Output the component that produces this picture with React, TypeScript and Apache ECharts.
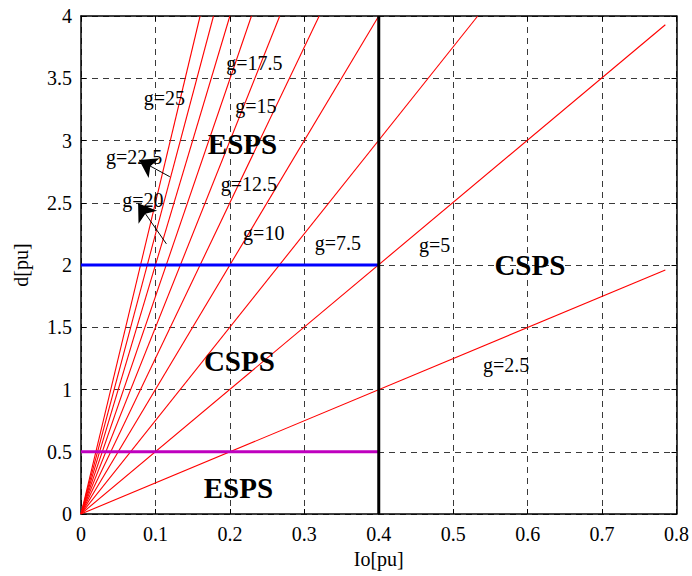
import React, { useEffect, useRef } from "react";
import * as echarts from "echarts";

// gain values of the red lines, d = g * Io
const gValues = [2.5, 5, 7.5, 10, 12.5, 15, 17.5, 20, 22.5, 25];
// end point of each red line (Io, d)
const lineEndIo = [0.785, 0.785, 0.533, 0.4, 0.32, 0.267, 0.229, 0.2, 0.178, 0.16];
const lineEndD = [1.96, 3.93, 4, 4, 4, 4, 4, 4, 4, 4];

const xTicks = [0, 0.1, 0.2, 0.3, 0.4, 0.5, 0.6, 0.7, 0.8];
const yTicks = [0, 0.5, 1, 1.5, 2, 2.5, 3, 3.5, 4];

// boundary lines
const boundaryIo = 0.4;
const blueD = 2;
const magentaD = 0.5;

// annotations
const labelTexts = ["g=17.5", "g=25", "g=15", "ESPS", "g=22.5", "g=12.5", "g=20", "g=10", "g=7.5", "g=5", "CSPS", "CSPS", "g=2.5", "ESPS"];
const labelIo = [0.233, 0.112, 0.235, 0.217, 0.0715, 0.2254, 0.083, 0.2455, 0.345, 0.475, 0.603, 0.2127, 0.571, 0.2114];
const labelD = [3.62, 3.34, 3.28, 2.97, 2.87, 2.65, 2.52, 2.257, 2.177, 2.16, 2.0, 1.229, 1.197, 0.209];
const labelBold = [false, false, false, true, false, false, false, false, false, false, true, true, false, true];

// arrows: tail -> head
const arrowTails = [[0.1193, 2.709], [0.1147, 2.17]];
const arrowHeads = [[0.0781, 2.843], [0.0767, 2.496]];

const FONT = "'Liberation Serif', 'Times New Roman', serif";

export default function App() {
  const ref = useRef<HTMLDivElement>(null);
  useEffect(() => {
    document.body.style.margin = "0";
    document.documentElement.style.overflow = "hidden";
    const chart = echarts.init(ref.current!, null, { renderer: "svg", width: 692, height: 576 });
    const gridLine = { show: true, lineStyle: { color: "#3a3a3a", type: [6, 5] as any, width: 1 } };
    const series: any[] = [];
    gValues.forEach((g, i) => {
      series.push({
        type: "line",
        name: "g=" + g,
        data: [[0, 0], [lineEndIo[i], lineEndD[i]]],
        showSymbol: false,
        lineStyle: { color: "#ff0000", width: 1.1 },
        itemStyle: { color: "#ff0000" },
        z: 3,
      });
    });
    series.push({
      type: "line",
      data: [[0, blueD], [boundaryIo, blueD]],
      showSymbol: false,
      lineStyle: { color: "#0000ff", width: 3 },
      z: 4,
    });
    series.push({
      type: "line",
      data: [[0, magentaD], [boundaryIo, magentaD]],
      showSymbol: false,
      lineStyle: { color: "#bf00bf", width: 3 },
      z: 4,
    });
    series.push({
      type: "line",
      data: [[boundaryIo, 0], [boundaryIo, 4]],
      showSymbol: false,
      lineStyle: { color: "#000000", width: 3 },
      z: 5,
    });
    series.push({
      type: "lines",
      coordinateSystem: "cartesian2d",
      data: arrowTails.map((t, i) => ({ coords: [t, arrowHeads[i]] })),
      symbol: ["none", "arrow"],
      symbolSize: [11, 17],
      lineStyle: { color: "#000", width: 1, opacity: 1 },
      itemStyle: { color: "#000", opacity: 1 },
      z: 6,
    });
    series.push({
      type: "scatter",
      symbolSize: 0,
      z: 7,
      itemStyle: { opacity: 1 },
      data: labelTexts.map((t, i) => ({
        value: [labelIo[i], labelD[i]],
        label: {
          show: true,
          position: "inside",
          formatter: t,
          fontFamily: FONT,
          fontSize: labelBold[i] ? 29 : 20,
          fontWeight: labelBold[i] ? "bold" : "normal",
          color: "#000",
          opacity: 1,
        },
      })),
    });

    const axisLine = { show: true, onZero: false, lineStyle: { color: "#000", width: 1.5 } };
    chart.setOption({
      animation: false,
      backgroundColor: "#fff",
      grid: { left: 81, right: 13, top: 16, bottom: 62, containLabel: false },
      xAxis: [
        {
          type: "value",
          min: 0,
          max: 0.8,
          interval: 0.1,
          position: "bottom",
          axisLine,
          axisTick: { show: true, inside: true, length: 5, lineStyle: { color: "#000" } },
          axisLabel: {
            fontFamily: FONT,
            fontSize: 20,
            color: "#000",
            margin: 10,
            formatter: (v: number) => {
              const t = xTicks.find((x) => Math.abs(x - v) < 1e-6);
              return t === undefined ? "" : String(t);
            },
          },
          splitLine: gridLine,
          name: "Io[pu]",
          nameLocation: "middle",
          nameGap: 35,
          nameTextStyle: { fontFamily: FONT, fontSize: 20, color: "#000" },
        },
        {
          type: "value",
          min: 0,
          max: 0.8,
          interval: 0.1,
          position: "top",
          axisLine,
          axisTick: { show: true, inside: true, length: 5, lineStyle: { color: "#000" } },
          axisLabel: { show: false },
          splitLine: { show: false },
        },
      ],
      yAxis: [
        {
          type: "value",
          min: 0,
          max: 4,
          interval: 0.5,
          position: "left",
          axisLine,
          axisTick: { show: true, inside: true, length: 5, lineStyle: { color: "#000" } },
          axisLabel: {
            fontFamily: FONT,
            fontSize: 20,
            color: "#000",
            margin: 9,
            formatter: (v: number) => {
              const t = yTicks.find((y) => Math.abs(y - v) < 1e-6);
              return t === undefined ? "" : String(t);
            },
          },
          splitLine: gridLine,
          name: "d[pu]",
          nameLocation: "middle",
          nameGap: 50,
          nameTextStyle: { fontFamily: FONT, fontSize: 20, color: "#000" },
        },
        {
          type: "value",
          min: 0,
          max: 4,
          interval: 0.5,
          position: "right",
          axisLine,
          axisTick: { show: true, inside: true, length: 5, lineStyle: { color: "#000" } },
          axisLabel: { show: false },
          splitLine: { show: false },
        },
      ],
      series,
    });
    return () => chart.dispose();
  }, []);
  return <div ref={ref} style={{ width: 692, height: 576 }} />;
}
